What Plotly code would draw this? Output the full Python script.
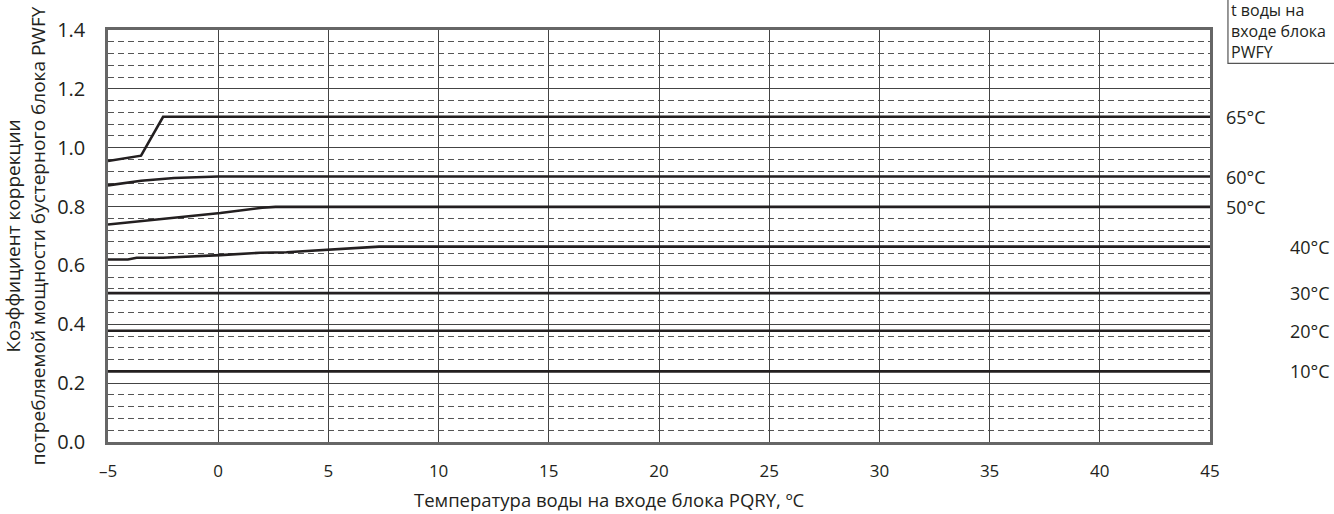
import plotly.graph_objects as go

# Data
x_65 = [-5, -3.5, -2.5, 45]
y_65 = [0.955, 0.973, 1.105, 1.105]

x_60 = [-5, -3.5, -2.0, 0.0, 45]
y_60 = [0.872, 0.888, 0.897, 0.902, 0.902]

x_50 = [-5, -3.4, -1.7, 0.1, 2.0, 2.6, 45]
y_50 = [0.739, 0.751, 0.765, 0.778, 0.796, 0.799, 0.799]

x_40 = [-5, -4.1, -3.7, -2.5, 0.1, 1.9, 3.1, 5.1, 7.3, 45]
y_40 = [0.620, 0.620, 0.626, 0.626, 0.635, 0.643, 0.645, 0.655, 0.664, 0.664]

x_30 = [-5, 45]
y_30 = [0.506, 0.506]
x_20 = [-5, 45]
y_20 = [0.378, 0.378]
x_10 = [-5, 45]
y_10 = [0.240, 0.240]

series = [
    ("65°C", x_65, y_65),
    ("60°C", x_60, y_60),
    ("50°C", x_50, y_50),
    ("40°C", x_40, y_40),
    ("30°C", x_30, y_30),
    ("20°C", x_20, y_20),
    ("10°C", x_10, y_10),
]
label_far = {"65°C": False, "60°C": False, "50°C": False,
             "40°C": True, "30°C": True, "20°C": True, "10°C": True}

x_tickvals = [-5, 0, 5, 10, 15, 20, 25, 30, 35, 40, 45]
x_ticktext = ["–5", "0", "5", "10", "15", "20", "25", "30", "35", "40", "45"]

FONT = "Open Sans"
INK = "#231f20"

fig = go.Figure()
for name, xs, ys in series:
    fig.add_trace(go.Scatter(x=xs, y=ys, mode="lines", name=name,
                             line=dict(color=INK, width=2.6), showlegend=False,
                             cliponaxis=False, hoverinfo="skip"))

annotations = []
for name, xs, ys in series:
    if label_far[name]:
        annotations.append(dict(x=1.1107, xref="paper", y=ys[-1], yref="y", text=name,
                                showarrow=False, xanchor="right", yanchor="middle",
                                font=dict(family=FONT, size=18, color=INK)))
    else:
        annotations.append(dict(x=1.013, xref="paper", y=ys[-1], yref="y", text=name,
                                showarrow=False, xanchor="left", yanchor="middle",
                                font=dict(family=FONT, size=18, color=INK)))

annotations.append(dict(x=1.0175, xref="paper", y=1.080, yref="paper",
                        text="t воды на<br>входе блока<br>PWFY", showarrow=False,
                        xanchor="left", yanchor="top", align="left",
                        font=dict(family=FONT, size=16, color=INK)))

annotations.append(dict(x=0.4555, xref="paper", y=-0.139, yref="paper",
                        text="Температура воды на входе блока PQRY, ºC", showarrow=False,
                        xanchor="center", yanchor="middle",
                        font=dict(family=FONT, size=18.5, color=INK)))

fig.update_layout(
    width=1334, height=514,
    margin=dict(l=108, r=124, t=30, b=72),
    paper_bgcolor="white", plot_bgcolor="white",
    font=dict(family=FONT, size=16, color=INK),
    annotations=annotations,
    shapes=[dict(type="rect", xref="paper", yref="paper", x0=1.0163, x1=1.25,
                 y0=0.919, y1=1.3, line=dict(color="#555", width=1.2),
                 fillcolor="rgba(0,0,0,0)")],
    xaxis=dict(range=[-5, 45], tickvals=x_tickvals, ticktext=x_ticktext,
               showgrid=True, gridcolor="#444", gridwidth=1,
               showline=True, mirror=True, linecolor="#666", linewidth=2.5,
               zeroline=False, ticks="", ticklabelstandoff=12,
               tickfont=dict(family=FONT, size=17, color=INK)),
    yaxis=dict(range=[0, 1.4], dtick=0.2, tickformat=".1f",
               showgrid=True, gridcolor="#444", gridwidth=1,
               minor=dict(dtick=0.04, showgrid=True, gridcolor="#555",
                          griddash="6px,4px", gridwidth=1),
               showline=True, mirror=True, linecolor="#666", linewidth=2.5,
               zeroline=False, ticks="", ticklabelstandoff=16,
               automargin=False,
               tickfont=dict(family=FONT, size=20, color=INK),
               title=dict(text="Коэффициент коррекции<br>потребляемой мощности бустерного блока PWFY",
                          standoff=8, font=dict(family=FONT, size=19, color=INK))),
)

fig.write_html("out.html", config={"displayModeBar": False},
               post_script="document.body.style.margin='0';")
